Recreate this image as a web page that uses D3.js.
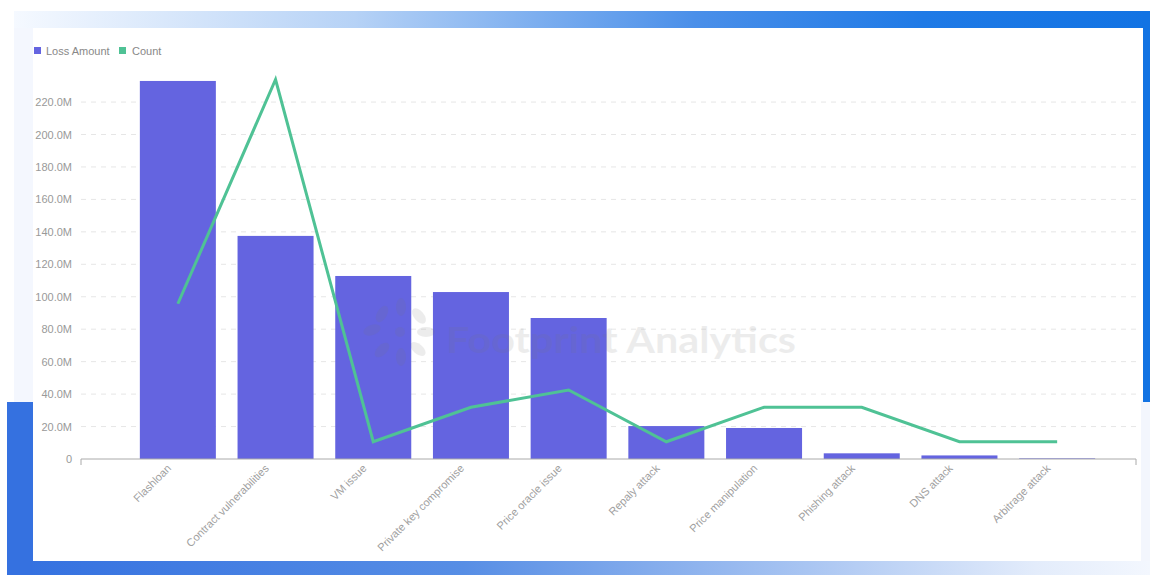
<!DOCTYPE html>
<html><head><meta charset="utf-8">
<script src="https://cdn.jsdelivr.net/npm/d3@7"></script>
<style>html,body{margin:0;padding:0;background:#fff;}svg{display:block;font-family:"Liberation Sans",Arial,sans-serif;}</style>
</head><body><svg id="c" width="1150" height="575"></svg>
<script>
const categories = ["Flashloan","Contract vulnerabilities","VM issue","Private key compromise","Price oracle issue","Repaly attack","Price manipulation","Phishing attack","DNS attack","Arbitrage attack"];
const lossAmount = [233.0e6, 137.5e6, 112.8e6, 102.9e6, 86.9e6, 20.3e6, 19.1e6, 3.5e6, 2.2e6, 0.4e6];
const counts = [9, 22, 1, 3, 4, 1, 3, 3, 1, 1];
const yTicks = [0,20e6,40e6,60e6,80e6,100e6,120e6,140e6,160e6,180e6,200e6,220e6];
const seriesNames = ["Loss Amount","Count"];

const svg = d3.select("#c");
const defs = svg.append("defs");
const gTop = defs.append("linearGradient").attr("id","gTop").attr("x1","0").attr("x2","1");
[[0,"#f5f9ff"],[0.3,"#b6d2f6"],[0.6,"#4a8fe9"],[0.8,"#1f7ae6"],[1,"#1273e3"]].forEach(s=>gTop.append("stop").attr("offset",s[0]).attr("stop-color",s[1]));
const gBot = defs.append("linearGradient").attr("id","gBot").attr("x1","0").attr("x2","1");
[[0,"#3370e0"],[0.4,"#578ee5"],[0.7,"#a9c5f2"],[0.9,"#e3ecfb"],[1,"#f3f7fe"]].forEach(s=>gBot.append("stop").attr("offset",s[0]).attr("stop-color",s[1]));

// frame background
svg.append("rect").attr("x",14).attr("y",11).attr("width",20).attr("height",391).attr("fill","#f4f7fe");
svg.append("rect").attr("x",1140).attr("y",400).attr("width",10).attr("height",175).attr("fill","#f3f6fd");
svg.append("rect").attr("x",14).attr("y",11).attr("width",1136).attr("height",17).attr("fill","url(#gTop)");
svg.append("rect").attr("x",1143).attr("y",11).attr("width",7).attr("height",391).attr("fill","#1273e3");
svg.append("rect").attr("x",7).attr("y",561).attr("width",1143).attr("height",14).attr("fill","url(#gBot)");
svg.append("rect").attr("x",7).attr("y",402).attr("width",26).attr("height",173).attr("fill","#3571e0");
svg.append("rect").attr("x",33).attr("y",28).attr("width",1108).attr("height",533).attr("fill","#ffffff");

const x = d3.scaleBand().domain(categories).range([129,1106]).paddingInner(0.222).paddingOuter(0.111);
const y = d3.scaleLinear().domain([0,240e6]).range([459,69.6]);
const yc = d3.scaleLinear().domain([0,24]).range([459,45]);

// gridlines
svg.append("g").selectAll("line").data(yTicks.filter(d=>d>0)).join("line")
  .attr("x1",81).attr("x2",1136).attr("y1",d=>y(d)).attr("y2",d=>y(d))
  .attr("stroke","#e6e6e6").attr("stroke-dasharray","5,5").attr("stroke-width",1);

// y axis labels
const yAxis = d3.axisLeft(y).tickValues(yTicks).tickSize(0).tickPadding(0)
  .tickFormat(d=> d===0 ? "0" : (d/1e6).toFixed(1)+"M");
const ya = svg.append("g").attr("transform","translate(72,0)").call(yAxis);
ya.select(".domain").remove();
ya.selectAll("text").attr("fill","#999").attr("font-size",11).attr("font-family","'Liberation Sans',Arial,sans-serif");

// bars
svg.append("g").selectAll("rect").data(categories).join("rect")
  .attr("x",d=>x(d)).attr("width",x.bandwidth())
  .attr("y",(d,i)=>y(lossAmount[i])).attr("height",(d,i)=>y(0)-y(lossAmount[i]))
  .attr("fill","#6464e0");

// x axis
const xAxis = d3.axisBottom(x).tickSize(0).tickPadding(0);
const xa = svg.append("g").attr("transform","translate(0,459)").call(xAxis);
xa.select(".domain").remove();
xa.selectAll("text").attr("fill","#a0a0a0").attr("font-size",11).attr("font-family","'Liberation Sans',Arial,sans-serif")
  .attr("text-anchor","end").attr("dy",0)
  .attr("transform","translate(-6,10) rotate(-45)");
svg.append("path").attr("d","M81,465V459H1136V465").attr("fill","none").attr("stroke","#aaa").attr("stroke-width",1);

// line
const line = d3.line().x((d,i)=>x(categories[i])+x.bandwidth()/2).y(d=>yc(d));
svg.append("path").datum(counts).attr("d",line).attr("fill","none").attr("stroke","#4fc295").attr("stroke-width",3).attr("stroke-linejoin","miter");

// watermark (on top)
const wm = svg.append("g").attr("opacity",0.13).attr("fill","#777");
wm.append("text").attr("x",446).attr("y",353).attr("font-size",36).attr("font-weight","bold")
  .attr("textLength",350).attr("lengthAdjust","spacingAndGlyphs")
  .attr("font-family","Lato, 'Liberation Sans', sans-serif").text("Footprint Analytics");
[[372,330,-20],[382,314,-60],[401,307,-90],[419,316,-130],[426,332,0],[418,349,40],[401,357,90],[382,350,135]].forEach(p=>{
  wm.append("ellipse").attr("cx",p[0]).attr("cy",p[1]).attr("rx",9).attr("ry",5).attr("transform",`rotate(${p[2]},${p[0]},${p[1]})`);
});
wm.append("circle").attr("cx",400).attr("cy",332).attr("r",5);

// legend
const leg = svg.append("g").attr("font-family","'Liberation Sans',Arial,sans-serif").attr("font-size",11).attr("fill","#888");
leg.append("rect").attr("x",34).attr("y",47).attr("width",7).attr("height",7).attr("fill","#6464e0");
leg.append("text").attr("x",46).attr("y",55).text(seriesNames[0]);
leg.append("rect").attr("x",119).attr("y",47).attr("width",7).attr("height",7).attr("fill","#4fc295");
leg.append("text").attr("x",132).attr("y",55).text(seriesNames[1]);
</script></body></html>
